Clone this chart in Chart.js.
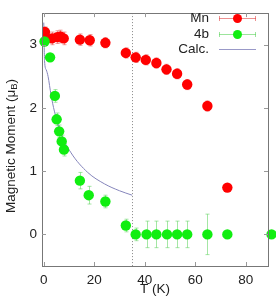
<!DOCTYPE html>
<html>
<head>
<meta charset="utf-8">
<script src="https://cdn.jsdelivr.net/npm/chart.js@4"></script>
<style>
  html, body { margin: 0; padding: 0; background: #fff; }
  #wrap { width: 276px; height: 297px; }
</style>
</head>
<body>
<div id="wrap"><canvas id="c"></canvas></div>
<script>
// Mn moments
const mnT = [0.5, 3.2, 5.3, 6.6, 7.9, 14.3, 18.2, 24.4, 32.5, 36.4, 40.4, 44.6, 48.6, 52.8, 56.8, 64.8, 72.7];
const mnM = [3.20, 3.10, 3.12, 3.13, 3.10, 3.08, 3.07, 3.03, 2.87, 2.80, 2.76, 2.71, 2.61, 2.54, 2.37, 2.03, 0.74];
const mnErr = [0.08, 0.1, 0.1, 0.1, 0.1, 0.09, 0.09, 0.08, 0.08, 0.08, 0.08, 0.08, 0.08, 0.08, 0.08, 0.08, 0];

// 4b site moments
const sbT = [0.3, 2.5, 4.4, 5.1, 6.1, 7.1, 8.0, 14.3, 17.8, 24.4, 32.5, 36.4, 40.7, 44.6, 48.8, 52.8, 56.8, 64.8, 72.7, 90.2];
const sbM = [3.05, 2.80, 2.19, 1.82, 1.63, 1.47, 1.34, 0.85, 0.62, 0.52, 0.14, 0, 0, 0, 0, 0, 0, 0, 0, 0];
const sbErr = [0.05, 0.05, 0.1, 0.1, 0.1, 0.1, 0.1, 0.13, 0.14, 0.1, 0.1, 0.1, 0.21, 0.21, 0.21, 0.21, 0.21, 0.32, 0, 0];

// calculated curve
const calcT = [0.0, 0.3, 1.0, 1.7, 2.9, 4.2, 6.9, 10.8, 17.4, 24.0, 30.0, 35.0];
const calcM = [3.35, 2.75, 2.60, 2.50, 2.20, 1.95, 1.59, 1.29, 0.98, 0.80, 0.69, 0.62];

const xTicks = [0, 20, 40, 60, 80];
const yTicks = [0, 1, 2, 3];
const transitionT = 35;

const FONT = '"Liberation Sans", Arial, sans-serif';

const pts = (xs, ys) => xs.map((x, i) => ({ x: x, y: ys[i] }));

const extras = {
  id: 'extras',
  beforeDatasetsDraw(chart) {
    const { ctx, scales: { x, y }, chartArea } = chart;
    ctx.save();
    // dotted line at the transition
    ctx.strokeStyle = '#888';
    ctx.lineWidth = 1;
    ctx.setLineDash([1, 2]);
    const xl = Math.round(x.getPixelForValue(transitionT)) + 0.5;
    ctx.beginPath();
    ctx.moveTo(xl, chartArea.top);
    ctx.lineTo(xl, chartArea.bottom);
    ctx.stroke();
    ctx.setLineDash([]);

    // error bars
    const sets = [[mnT, mnM, mnErr, 'rgba(225,70,70,0.55)'], [sbT, sbM, sbErr, 'rgba(90,210,90,0.55)']];
    sets.forEach(([ts, ms, es, col]) => {
      ctx.strokeStyle = col;
      ctx.lineWidth = 1;
      ts.forEach((t, i) => {
        if (!es[i]) return;
        const px = Math.round(x.getPixelForValue(t)) + 0.5;
        const y1 = y.getPixelForValue(ms[i] + es[i]);
        const y2 = y.getPixelForValue(ms[i] - es[i]);
        ctx.beginPath();
        ctx.moveTo(px, y1); ctx.lineTo(px, y2);
        ctx.moveTo(px - 2, y1); ctx.lineTo(px + 2, y1);
        ctx.moveTo(px - 2, y2); ctx.lineTo(px + 2, y2);
        ctx.stroke();
      });
    });
    ctx.restore();
  },
  afterDraw(chart) {
    const { ctx, scales: { x, y }, chartArea: a } = chart;
    ctx.save();
    // frame
    ctx.strokeStyle = '#777';
    ctx.lineWidth = 1;
    ctx.strokeRect(Math.round(a.left) + 0.5, Math.round(a.top) + 0.5, Math.round(a.right - a.left), Math.round(a.bottom - a.top));
    // inward ticks on all four sides
    ctx.strokeStyle = '#999';
    ctx.beginPath();
    xTicks.forEach(t => {
      const px = Math.round(x.getPixelForValue(t)) + 0.5;
      ctx.moveTo(px, a.bottom); ctx.lineTo(px, a.bottom - 4);
      ctx.moveTo(px, a.top); ctx.lineTo(px, a.top + 4);
    });
    yTicks.forEach(v => {
      const py = Math.round(y.getPixelForValue(v)) + 0.5;
      ctx.moveTo(a.left, py); ctx.lineTo(a.left + 4, py);
      ctx.moveTo(a.right, py); ctx.lineTo(a.right - 4, py);
    });
    ctx.stroke();

    // y title with subscript B
    ctx.fillStyle = '#222';
    ctx.translate(11, 146);
    ctx.rotate(-Math.PI / 2);
    ctx.textBaseline = 'middle';
    ctx.textAlign = 'left';
    const big = '13.5px ' + FONT, small = '9.5px ' + FONT;
    const main = 'Magnetic Moment (\u03bc', sub = 'B', tail = ')';
    ctx.font = big;
    const w1 = ctx.measureText(main).width;
    const w3 = ctx.measureText(tail).width;
    ctx.font = small;
    const w2 = ctx.measureText(sub).width;
    const sx = -(w1 + w2 + w3) / 2;
    ctx.font = big;
    ctx.fillText(main, sx, 0);
    ctx.font = small;
    ctx.fillText(sub, sx + w1, 3);
    ctx.font = big;
    ctx.fillText(tail, sx + w1 + w2, 0);
    ctx.restore();

    // legend
    ctx.save();
    ctx.font = '13.5px ' + FONT;
    ctx.textAlign = 'right';
    ctx.textBaseline = 'middle';
    const rows = [
      ['Mn', 'rgba(225,70,70,0.6)', '#ff0000', 18],
      ['4b', 'rgba(90,210,90,0.6)', '#11ee11', 34],
      ['Calc.', '#9999c8', null, 49]
    ];
    rows.forEach(([label, lc, mc, ry]) => {
      ctx.fillStyle = '#222';
      ctx.fillText(label, 209, ry);
      ctx.strokeStyle = lc;
      ctx.lineWidth = 1;
      ctx.beginPath();
      ctx.moveTo(219, ry + 0.5); ctx.lineTo(256, ry + 0.5);
      if (mc) {
        ctx.moveTo(219.5, ry - 2); ctx.lineTo(219.5, ry + 3);
        ctx.moveTo(255.5, ry - 2); ctx.lineTo(255.5, ry + 3);
      }
      ctx.stroke();
      if (mc) {
        ctx.fillStyle = mc;
        ctx.beginPath();
        ctx.arc(237.5, ry + 0.5, 4.5, 0, Math.PI * 2);
        ctx.fill();
      }
    });
    ctx.restore();
  }
};

new Chart(document.getElementById('c'), {
  type: 'scatter',
  data: {
    datasets: [
      {
        label: '4b',
        data: pts(sbT, sbM),
        backgroundColor: '#11ee11',
        borderWidth: 0,
        pointRadius: 5.2,
        clip: false,
        order: 0
      },
      {
        label: 'Mn',
        data: pts(mnT, mnM),
        backgroundColor: '#ff0000',
        borderWidth: 0,
        pointRadius: 5.2,
        order: 1
      },
      {
        label: 'Calc.',
        type: 'line',
        data: pts(calcT, calcM),
        borderColor: '#8585bb',
        borderWidth: 1,
        pointRadius: 0,
        cubicInterpolationMode: 'monotone',
        fill: false,
        order: 2
      }
    ]
  },
  plugins: [extras],
  options: {
    responsive: true,
    maintainAspectRatio: false,
    animation: false,
    events: [],
    layout: { padding: { left: 0, right: 8, top: 6, bottom: 0 } },
    plugins: { legend: { display: false }, tooltip: { enabled: false } },
    scales: {
      x: {
        type: 'linear',
        min: -0.7,
        max: 88.8,
        afterBuildTicks: s => { s.ticks = xTicks.map(v => ({ value: v })); },
        afterFit: s => { s.height = 31; },
        grid: { display: false, drawTicks: false },
        border: { display: false },
        ticks: { color: '#222', font: { family: FONT, size: 13.5 }, padding: 6, maxRotation: 0 },
        title: { display: true, text: 'T (K)', color: '#222', font: { family: FONT, size: 13.5 }, padding: { top: -4, bottom: 0 } }
      },
      y: {
        min: -0.5,
        max: 3.5,
        afterBuildTicks: s => { s.ticks = yTicks.map(v => ({ value: v })); },
        afterFit: s => { s.width = 42; },
        grid: { display: false, drawTicks: false },
        border: { display: false },
        ticks: { color: '#222', font: { family: FONT, size: 13.5 }, padding: 5 }
      }
    }
  }
});
</script>
</body>
</html>
